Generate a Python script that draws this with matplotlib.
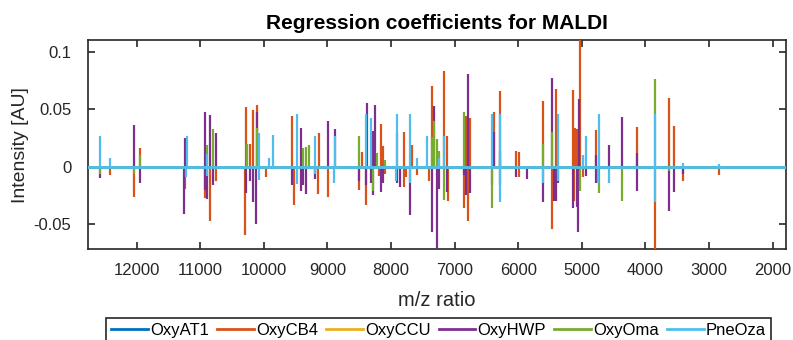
import numpy as np
import matplotlib.pyplot as plt
import matplotlib as mpl

mpl.rcParams.update({
    'font.family': ['Liberation Sans', 'DejaVu Sans'],
    'axes.unicode_minus': False,
})

# m/z range of the spectra
mz_range = [12766, 1791]

names = ['OxyAT1', 'OxyCB4', 'OxyCCU', 'OxyHWP', 'OxyOma', 'PneOza']
colors = ['#0072BD', '#D95319', '#EDB120', '#7E2F8E', '#77AC30', '#4DBEEE']

# non-zero regression coefficients per class (m/z, coefficient)
at1_mz, at1_coef = [], []
ccu_mz, ccu_coef = [], []

cb4_mz = [12415, 12038, 11948, 11245, 10926, 10848, 10758, 10281, 10290, 10219,
          10167, 10113, 9972, 9558, 9522, 9138, 9145, 9197, 8992, 8505,
          8462, 8399, 8195, 8164, 8132, 8096, 7912, 7797, 7790, 7766,
          7676, 7598, 7404, 7352, 7163, 7116, 7110, 6854, 6818, 6796,
          6755, 6382, 6288, 6032, 5989, 5995, 5612, 5470, 5408, 5145,
          5113, 5118, 5082, 5035, 4987, 4778, 4134, 3846, 3626, 3556,
          3415, 2840]
cb4_coef = [-0.0072, -0.026, 0.016, -0.019, -0.027, -0.047, -0.012, 0.052, -0.059, 0.020,
            0.049, 0.0536, -0.009, 0.044, -0.033, 0.029, -0.024, -0.006, -0.026, -0.020,
            0.013, -0.033, -0.008, 0.037, 0.018, -0.006, 0.029, 0.030, -0.018, -0.009,
            0.019, -0.007, -0.012, 0.070, 0.083, 0.027, -0.030, -0.036, 0.044, -0.047,
            0.042, 0.048, 0.066, 0.014, 0.013, -0.009, 0.057, -0.054, 0.068, 0.067,
            0.034, -0.030, 0.033, 0.110, -0.009, 0.032, 0.035, -0.0718, 0.060, 0.0354,
            -0.012, -0.0075]

hwp_mz = [12572, 12038, 11948, 11245, 11250, 10926, 10930, 10890, 10848, 10805,
          10758, 10281, 10219, 10167, 10113, 10118, 9558, 9417, 9422, 9380,
          9338, 9197, 8992, 8887, 8505, 8399, 8374, 8311, 8285, 8290,
          8258, 8164, 8132, 7912, 7860, 7703, 7352, 7325, 7278, 7242,
          7116, 6854, 6818, 6796, 6755, 6409, 6382, 6288, 6293, 6032,
          5863, 5612, 5470, 5439, 5408, 5376, 5145, 5082, 5050, 5055,
          4931, 4778, 4783, 4569, 4370, 4134, 4139, 3626, 3556, 3415]
hwp_coef = [-0.0096, 0.0365, -0.014, 0.025, -0.041, 0.0476, -0.020, -0.028, 0.045, -0.016,
            0.0296, -0.023, -0.012, -0.031, 0.048, -0.050, -0.016, 0.034, -0.021, -0.016,
            -0.024, -0.011, 0.040, 0.033, -0.012, -0.016, 0.0557, -0.014, 0.031, -0.025,
            0.054, -0.022, -0.014, -0.014, -0.018, -0.042, -0.057, 0.053, -0.0704, -0.019,
            -0.022, -0.007, -0.025, 0.081, -0.023, -0.016, 0.030, 0.014, -0.016, -0.009,
            -0.011, -0.031, 0.0774, -0.030, -0.030, -0.014, -0.036, -0.035, 0.059, -0.057,
            -0.008, 0.010, -0.014, 0.019, 0.043, 0.012, -0.021, -0.0385, -0.022, -0.006]

oma_mz = [12572, 12038, 11948, 10890, 10805, 10270, 10113, 9380, 9338, 9286,
          8505, 8285, 8226, 8096, 7352, 7325, 7278, 7242, 7163, 6854,
          6409, 6288, 5612, 5470, 5035, 4736, 4370, 3846, 3626]
oma_coef = [-0.006, -0.006, 0.0105, 0.019, 0.033, 0.020, 0.034, 0.016, 0.017, 0.019,
            0.027, -0.021, 0.012, 0.006, 0.026, 0.040, 0.024, 0.014, -0.029, 0.048,
            -0.036, 0.006, 0.020, 0.030, -0.021, -0.023, -0.030, 0.0765, -0.004]

oza_mz = [12572, 12415, 11214, 11218, 10890, 10894, 10072, 10076, 9920, 9852,
          9475, 9479, 9197, 9201, 8887, 8891, 8399, 8311, 7912, 7916,
          7703, 7707, 7598, 7431, 7242, 7163, 6409, 6288, 6292, 5612,
          5376, 5380, 4987, 4931, 4736, 4740, 4569, 3846, 3850, 3415,
          2840]
oza_coef = [0.0267, 0.0076, 0.027, -0.009, 0.011, -0.008, 0.029, -0.0117, 0.008, 0.0276,
            0.046, -0.015, 0.027, -0.006, 0.027, -0.014, 0.046, 0.042, 0.046, -0.012,
            0.046, -0.014, 0.008, 0.027, 0.008, 0.027, 0.046, 0.046, -0.031, -0.014,
            0.046, -0.012, 0.010, 0.027, 0.046, -0.014, -0.014, 0.046, -0.031, 0.0035,
            0.002]

series = [(at1_mz, at1_coef), (cb4_mz, cb4_coef), (ccu_mz, ccu_coef),
          (hwp_mz, hwp_coef), (oma_mz, oma_coef), (oza_mz, oza_coef)]

fig = plt.figure(figsize=(7.93, 3.40), dpi=100)
ax = fig.add_axes([0.111, 0.267, 0.880, 0.615])

handles = []
for k, ((mz, coef), name, c) in enumerate(zip(series, names, colors)):
    z = 2 + k
    h, = ax.plot(mz_range, [0, 0], color=c, lw=2.0, label=name, zorder=z)
    if mz:
        ax.vlines(mz, 0, coef, colors=c, lw=1.6, zorder=z)
    handles.append(h)

ax.set_xlim(mz_range)
ax.set_ylim(-0.0718, 0.1102)
ax.set_xticks(np.arange(12000, 1999, -1000))
ax.set_yticks([-0.05, 0, 0.05, 0.1])
ax.yaxis.set_major_formatter(mpl.ticker.FuncFormatter(lambda v, p: f'{v:g}'))

axcol = '#262626'
for s in ax.spines.values():
    s.set_color(axcol)
    s.set_linewidth(1.2)
ax.tick_params(direction='in', top=True, right=True, length=5, width=1.2,
               color=axcol, labelcolor=axcol, labelsize=12)
ax.tick_params(axis='x', pad=10)
ax.tick_params(axis='y', pad=12)

ax.set_title('Regression coefficients for MALDI', fontsize=15, fontweight='bold',
             color='black', pad=8)
ax.set_xlabel('m/z ratio', fontsize=14.5, color=axcol, labelpad=9)
ax.set_ylabel('Intensity [AU]', fontsize=14, color=axcol, labelpad=3)

leg = fig.legend(handles=handles, loc='upper center', bbox_to_anchor=(0.553, 0.0647),
                 borderaxespad=0, ncol=6, fontsize=12, frameon=True, fancybox=False,
                 framealpha=1, edgecolor=axcol, handlelength=2.2, handletextpad=0.12,
                 columnspacing=0.5, borderpad=0.3)
leg.get_frame().set_linewidth(1.2)

fig.savefig('out.png', dpi=100)
